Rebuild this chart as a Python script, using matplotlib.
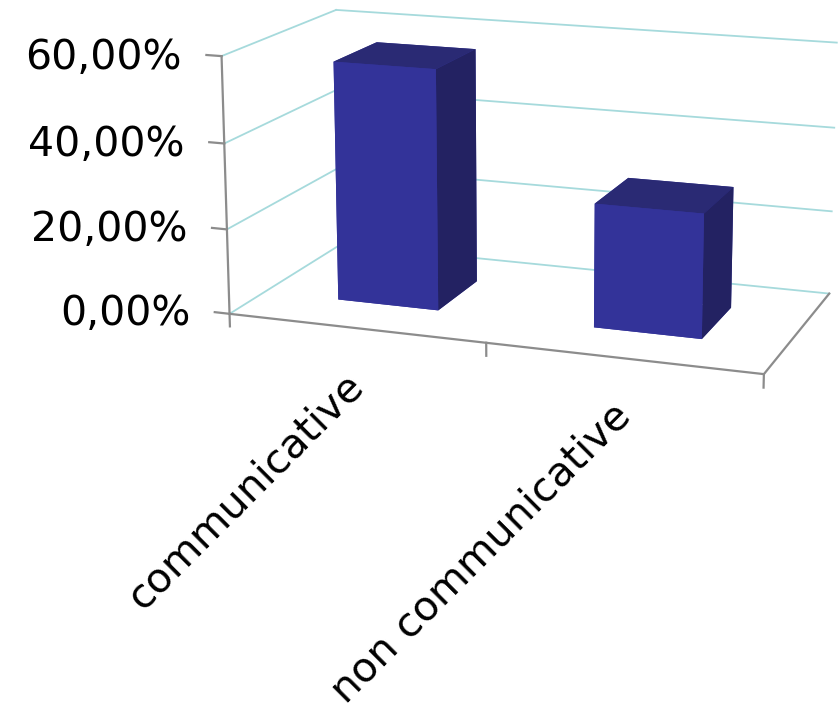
import numpy as np
import matplotlib
matplotlib.use("Agg")
import matplotlib.pyplot as plt
from matplotlib.transforms import offset_copy

categories = ["communicative", "non communicative"]
values = [0.565, 0.287]
ticks = [0.0, 0.2, 0.4, 0.6]
tick_labels = ["0,00%", "20,00%", "40,00%", "60,00%"]

# camera fitted to the reference frame (elev, azim, focal length, box aspect)
elev, azim, focal = 13.808, -70.289, 0.685
box = (1, 0.492, 0.464)

grid_color = "#A6DADC"
axis_color = "#8C8C8C"
# bar3d face order: bottom, top, front, back, left, right
face_cols = ["#333399", "#2A2A74", "#333399", "#333399", "#333399", "#232262"]

fig = plt.figure(figsize=(8.39, 7.12), dpi=100)
ax = fig.add_axes([0.2426, 0.273, 0.766, 0.9288], projection="3d")
ax.apply_aspect = lambda position=None: None  # keep the rect as given
ax.set_axis_off()
ax.computed_zorder = False

# walls: gridlines on the back and left wall
for z in ticks:
    ax.plot([0, 2], [1, 1], [z, z], color=grid_color, lw=1.3, zorder=1)
    ax.plot([0, 0], [0, 1], [z, z], color=grid_color, lw=1.3, zorder=1)

for i, v in enumerate(values):
    ax.bar3d(i + 0.3, 0.3, 0, 0.4, 0.4, v, color=face_cols, shade=False, linewidth=0, zorder=2)

# floor outline, value axis and ticks
ax.plot([0, 2], [0, 0], [0, 0], color=axis_color, lw=1.6, zorder=3)
ax.plot([2, 2], [0, 1], [0, 0], color=axis_color, lw=1.6, zorder=3)
ax.plot([0, 0], [0, 0], [-0.03, 0.6], color=axis_color, lw=1.6, zorder=3)
for x in [1, 2]:
    ax.plot([x, x], [0, 0], [-0.03, 0], color=axis_color, lw=1.6, zorder=3)
for z in ticks:
    ax.plot([-0.06, 0], [0, 0], [z, z], color=axis_color, lw=1.6, zorder=3)

ax.set_xlim(0, 2)
ax.set_ylim(0, 1)
ax.set_zlim(0, 0.6)
ax.set_xticks([])
ax.set_yticks([])
ax.set_zticks([])
ax.view_init(elev, azim)
ax.set_proj_type("persp", focal_length=focal)
ax.set_box_aspect(box)

M = ax.get_proj()


def to2d(x, y, z):
    v = M @ np.array([x, y, z, 1])
    return v[0] / v[3], v[1] / v[3]


# value labels to the left of the axis
for z, lab in zip(ticks, tick_labels):
    px, py = to2d(-0.16, 0, z)
    ax.text2D(px, py, lab, transform=ax.transData, ha="right", va="center_baseline",
              fontsize=29.5, zorder=4)

# rotated category labels, hung below the middle of each category on the front edge
lab_trans = offset_copy(ax.transData, fig=fig, x=10, y=-60, units="dots")
for i, cat in enumerate(categories):
    px, py = to2d(i + 0.5, 0, 0)
    ax.text2D(px, py, cat, transform=lab_trans, rotation=45,
              ha="right", va="baseline", rotation_mode="anchor", fontsize=29.5)

fig.savefig("out.png", dpi=100)
